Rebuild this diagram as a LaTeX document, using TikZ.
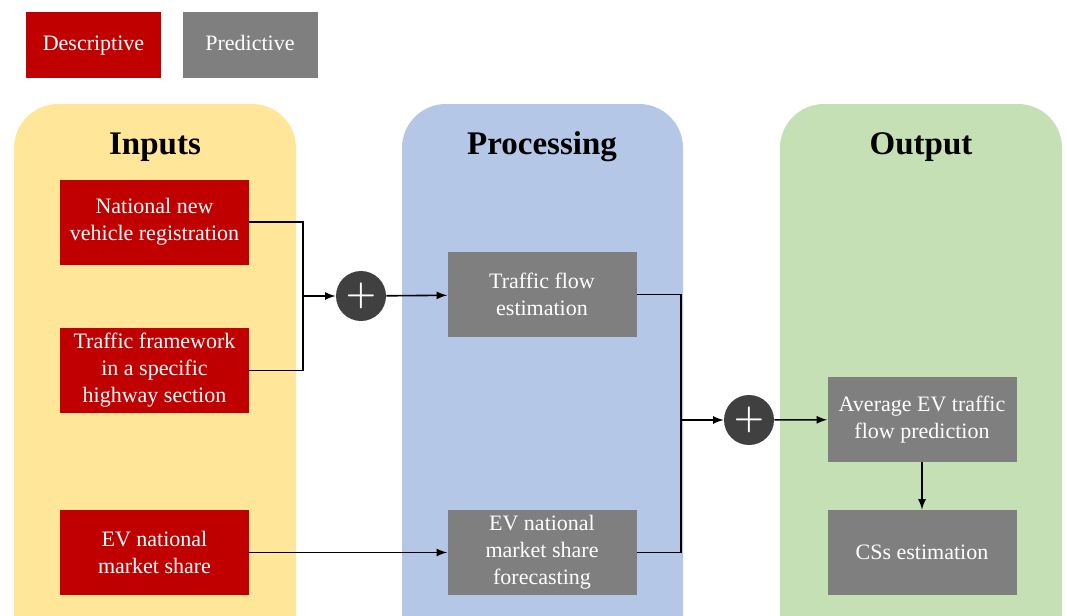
\documentclass[tikz,border=0pt]{standalone}
\usepackage{fontspec}
\setmainfont{Liberation Serif}
\usetikzlibrary{arrows}

\definecolor{descred}{HTML}{C00000}
\definecolor{predgray}{HTML}{7F7F7F}
\definecolor{sumdark}{HTML}{404040}
\definecolor{inputbg}{HTML}{FFE699}
\definecolor{procbg}{HTML}{B4C7E7}
\definecolor{outbg}{HTML}{C5E0B4}

\begin{document}
\begin{tikzpicture}[x = 0.5pt, y = -0.5pt,
    desc/.style = {fill = descred, text = white, minimum width = 94.5pt, minimum height = 42.5pt, inner sep = 0pt, align = center, font = \fontsize{11}{13.5}\selectfont},
    pred/.style = {desc, fill = predgray},
    key/.style = {desc, minimum width = 67.5pt, minimum height = 33pt, text height = 1.6ex, text depth = 0.4ex},
    sum/.style = {circle, fill = sumdark, text = white, minimum size = 25pt, inner sep = 0pt, font = \fontsize{17}{17}\selectfont\boldmath},
    heading/.style = {font = \fontsize{16.5}{20}\selectfont\bfseries},
    link/.style = {line width = 0.8pt}]
  \useasboundingbox (0,0) rectangle (1067,616);
  % panels
  \begin{scope}
    \clip (0,0) rectangle (1067,616);
    \fill[inputbg, rounded corners = 22pt] (14,104) rectangle (296,680);
    \fill[procbg, rounded corners = 22pt] (402,104) rectangle (683,680);
    \fill[outbg, rounded corners = 22pt] (780,104) rectangle (1062,680);
  \end{scope}
  % legend
  \node[key] (keydesc) at (93.5,45) {Descriptive};
  \node[key, fill = predgray] (keypred) at (250,45) {Predictive};
  \node[heading] (inputs) at (155,147) {Inputs};
  \node[heading] (processing) at (542,147) {Processing};
  \node[heading] (output) at (921,147) {Output};
  % inputs
  \node[desc] (registration) at (154.5,222) {National new\\vehicle registration};
  \node[desc] (framework) at (154.5,370.5) {Traffic framework\\in a specific\\highway section};
  \node[desc] (share) at (154.5,552.5) {EV national\\market share};
  % processing
  \node[pred] (flow) at (542,294.5) {Traffic flow\\estimation};
  \node[pred] (forecast) at (542,552.5) {EV national\\market share\\forecasting};
  % output
  \node[pred] (average) at (922,419.5) {Average EV traffic\\flow prediction};
  \node[pred] (css) at (922,552.5) {CSs estimation};
  \node[sum] (suminput) at (361,296) {$+$};
  \node[sum] (sumproc) at (749,420) {$+$};
  \coordinate (joininput) at (303,296);
  \coordinate (joinproc) at (681,420);
  \draw[link] (registration.east) -| (joininput);
  \draw[link] (framework.east) -| (joininput);
  \draw[link] (flow.east) -| (joinproc);
  \draw[link] (forecast.east) -| (joinproc);
  \path[link, -latex] (joininput) edge (suminput)
                      (suminput) edge (flow)
                      (share) edge (forecast)
                      (joinproc) edge (sumproc)
                      (sumproc) edge (average)
                      (average) edge (css);
\end{tikzpicture}
\end{document}
